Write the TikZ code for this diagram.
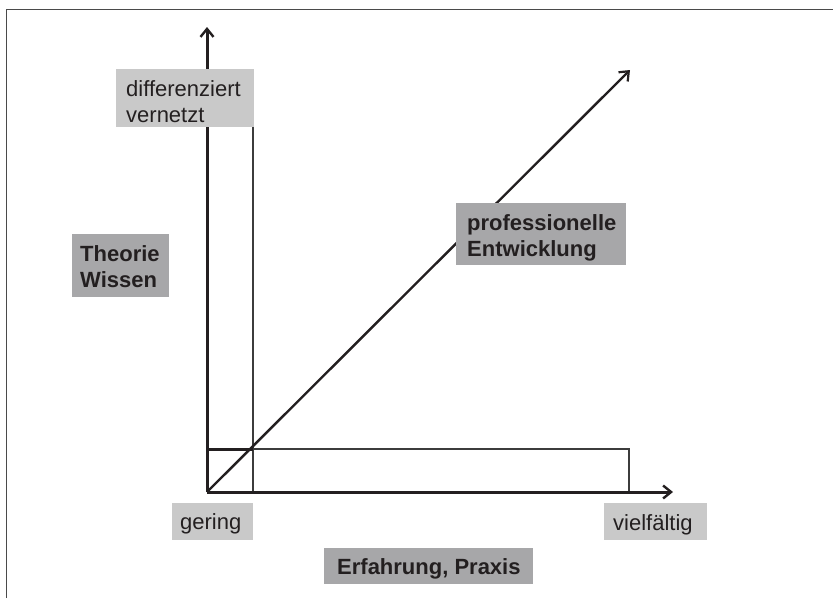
\documentclass[tikz,border=0pt]{standalone}
\usepackage{fontspec}
\setmainfont{Liberation Sans}
\usetikzlibrary{arrows.meta}
\definecolor{ink}{HTML}{231F20}
\definecolor{boxlight}{HTML}{C9C9C9}
\definecolor{boxdark}{HTML}{A7A7A9}
\definecolor{framegray}{HTML}{4A4A4A}
\definecolor{thingray}{HTML}{3C3C3C}
\tikzset{
  framestroke/.style={draw=framegray, line width=1.6pt},
  axisline/.style={draw=ink, line width=3pt,
    -{Straight Barb[length=8pt,width=13pt,line width=2.4pt]}},
  diagline/.style={draw=ink, line width=2.4pt,
    -{Straight Barb[length=8pt,width=13pt,line width=2.2pt]}},
  thinline/.style={draw=thingray, line width=1.3pt},
  lightbox/.style={fill=boxlight, inner sep=0pt, anchor=north west},
  darkbox/.style={fill=boxdark, inner sep=0pt, anchor=north west},
  txt/.style={inner sep=0pt, anchor=base west, align=left, text=ink,
    font=\fontsize{22}{26}\selectfont},
  boldtxt/.style={txt, font=\fontsize{22}{26}\selectfont\bfseries}
}
\begin{document}
\begin{tikzpicture}[x=1pt,y=-1pt]
\useasboundingbox (0,0) rectangle (833,598);

% outer frame (top and left edges)
\draw[framestroke] (6.5,598) -- (6.5,9.5) -- (833,9.5);

% key points of the chart
\coordinate (O) at (207,492);
\coordinate (ytip) at (207,27);
\coordinate (xtip) at (673,492);
\coordinate (dtip) at (630,70);
\coordinate (corner) at (253,449);
\coordinate (farx) at (629,449);

% thin frames along the axes
\draw[thinline] (corner |- 127,127) -- (corner |- O);
\draw[thinline] (corner) -- (farx) -- (farx |- O);
\draw[draw=ink, line width=3pt] (O |- corner) -- (corner);

% axes and development arrow
\draw[axisline] (O) -- (ytip);
\draw[axisline] (O) -- (xtip);
\draw[diagline] (O) -- (dtip);

% label boxes (laid over the axes)
\node[lightbox, minimum width=138pt, minimum height=58pt] (dvbox) at (116,69) {};
\node[darkbox, minimum width=97pt, minimum height=63pt] (twbox) at (72,234) {};
\node[darkbox, minimum width=170pt, minimum height=62pt] (pebox) at (456,203) {};
\node[lightbox, minimum width=81pt, minimum height=37pt] (gbox) at (172,503) {};
\node[lightbox, minimum width=103pt, minimum height=37pt] (vbox) at (604,503) {};
\node[darkbox, minimum width=209pt, minimum height=36pt] (epbox) at (324,548) {};

% texts (base = baseline of the last line)
\node[txt] (dv) at (126,122) {differenziert\\vernetzt};
\node[boldtxt] (tw) at (80,287) {Theorie\\Wissen};
\node[boldtxt] (pe) at (467,256) {professionelle\\Entwicklung};
\node[txt] (g) at (180,529) {gering};
\node[txt] (v) at (613,530) {vielfältig};
\node[boldtxt] (ep) at (337,574) {Erfahrung, Praxis};
\end{tikzpicture}
\end{document}
